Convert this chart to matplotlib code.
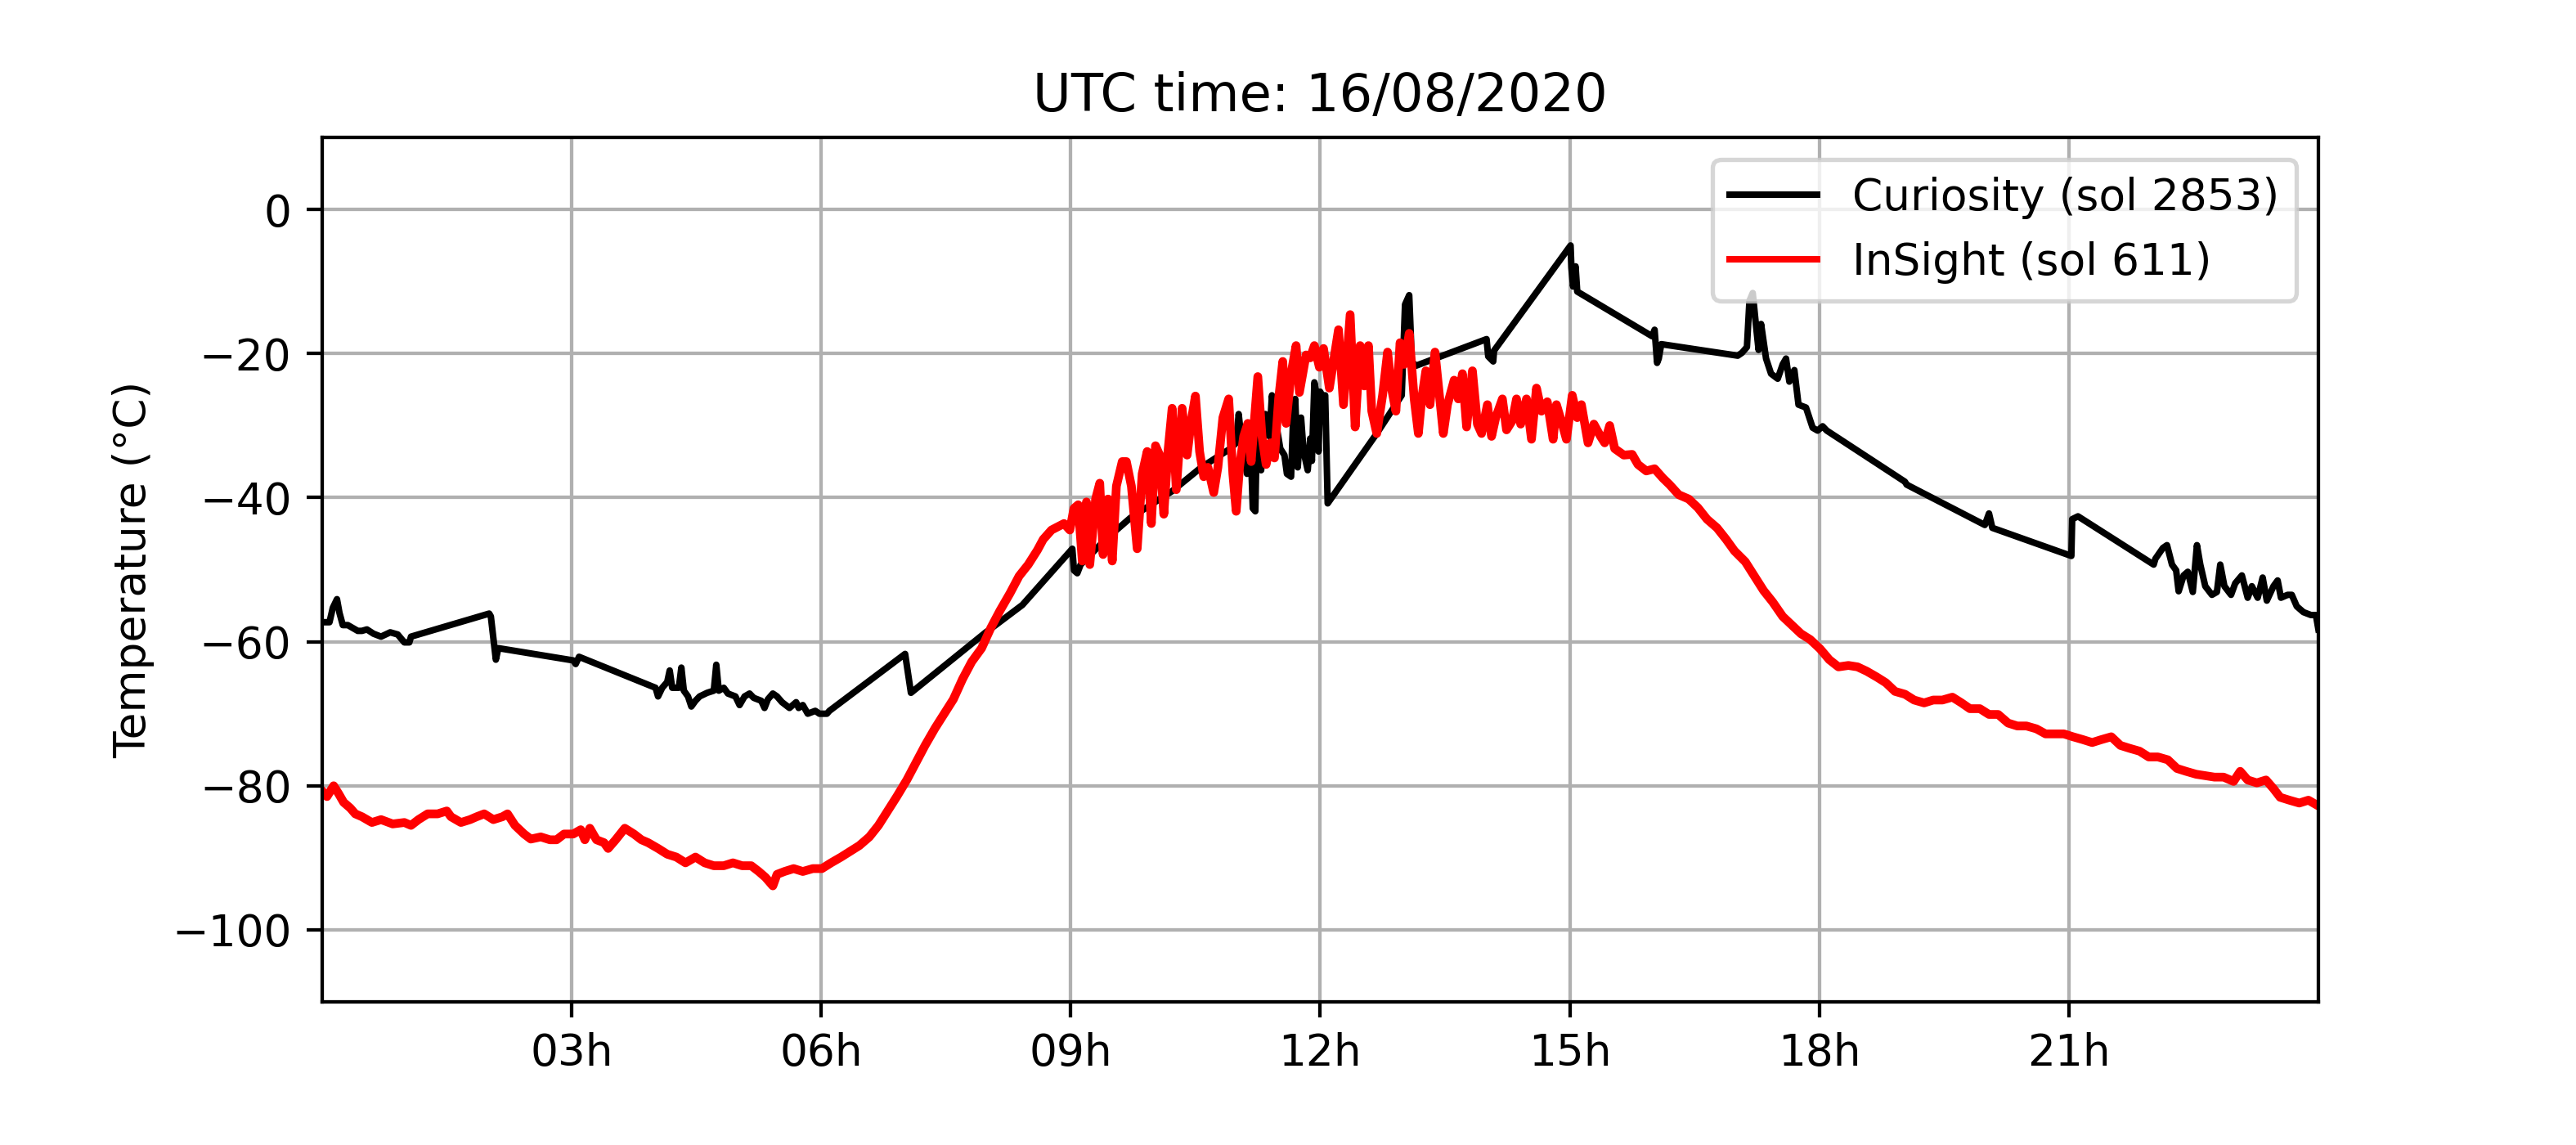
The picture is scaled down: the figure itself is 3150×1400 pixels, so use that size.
import matplotlib
matplotlib.use("Agg")
import matplotlib.pyplot as plt

# ---- data (hours UTC, temperature in °C) ----
curiosity_h = [0.00, 0.09, 0.13, 0.18, 0.21, 0.25, 0.31, 0.37, 0.43, 0.48, 0.54, 0.62, 0.71,
               0.82, 0.91, 0.99, 1.05, 1.07, 2.01, 2.03, 2.09, 2.12, 3.02, 3.05, 3.09, 4.01,
               4.04, 4.09, 4.15, 4.18, 4.21, 4.29, 4.32, 4.35, 4.40, 4.44, 4.49, 4.54, 4.63,
               4.71, 4.74, 4.77, 4.83, 4.88, 4.97, 5.02, 5.08, 5.14, 5.19, 5.28, 5.32, 5.36,
               5.42, 5.47, 5.53, 5.62, 5.70, 5.73, 5.78, 5.84, 5.93, 5.98, 6.07, 6.10, 7.01,
               7.08, 7.98, 8.04, 8.42, 9.02, 9.04, 9.08, 9.12, 9.42, 9.72, 10.22, 10.57,
               10.92, 10.99, 11.02, 11.06, 11.12, 11.16, 11.19, 11.22, 11.24, 11.29, 11.34,
               11.39, 11.42, 11.47, 11.52, 11.57, 11.60, 11.65, 11.68, 11.70, 11.73, 11.77,
               11.80, 11.85, 11.88, 11.90, 11.93, 11.95, 11.98, 12.00, 12.04, 12.06, 12.09,
               12.68, 12.98, 13.02, 13.07, 13.09, 13.10, 13.15, 14.00, 14.02, 14.08, 14.09,
               15.01, 15.02, 15.04, 15.07, 15.09, 15.99, 16.02, 16.05, 16.07, 16.10, 17.02,
               17.07, 17.13, 17.16, 17.20, 17.23, 17.27, 17.30, 17.36, 17.42, 17.50, 17.56,
               17.60, 17.64, 17.70, 17.75, 17.84, 17.92, 17.98, 18.04, 18.09, 19.03, 19.05,
               19.99, 20.04, 20.08, 21.03, 21.04, 21.11, 22.02, 22.04, 22.13, 22.18, 22.24,
               22.29, 22.32, 22.38, 22.43, 22.49, 22.54, 22.58, 22.64, 22.72, 22.78, 22.82,
               22.87, 22.95, 23.00, 23.08, 23.15, 23.20, 23.27, 23.33, 23.38, 23.46, 23.51,
               23.55, 23.63, 23.68, 23.74, 23.82, 23.91, 23.97, 24.00]
curiosity_t = [-57.3, -57.3, -55.3, -54.1, -56.0, -57.7, -57.7, -58.1, -58.5, -58.5, -58.3,
               -58.9, -59.3, -58.7, -59.0, -60.1, -60.1, -59.3, -56.1, -56.5, -62.5, -60.9,
               -62.6, -63.1, -62.1, -66.4, -67.6, -66.4, -65.6, -64.0, -66.4, -66.4, -63.6,
               -66.8, -67.6, -69.0, -68.2, -67.6, -67.1, -66.8, -63.2, -66.8, -66.4, -67.2,
               -67.6, -68.8, -67.6, -67.2, -67.8, -68.2, -69.2, -68.0, -67.2, -67.6, -68.4,
               -69.2, -68.4, -69.2, -68.8, -70.0, -69.6, -70.0, -70.0, -69.6, -61.7, -67.1,
               -58.7, -58.2, -54.9, -47.1, -50.1, -50.5, -49.3, -45.8, -42.8, -39.1, -35.8,
               -33.2, -32.4, -28.4, -32.8, -36.7, -31.9, -41.5, -41.9, -29.7, -36.2, -28.4,
               -31.5, -25.8, -29.7, -33.2, -34.1, -36.7, -37.1, -27.1, -26.3, -35.8, -28.9,
               -33.6, -36.2, -31.8, -34.9, -24.0, -25.3, -33.6, -25.3, -26.2, -25.8, -40.8,
               -31.1, -25.8, -13.2, -11.9, -17.6, -21.1, -21.7, -18.0, -20.4, -21.1, -19.6,
               -5.0, -8.1, -10.7, -7.9, -11.4, -17.6, -16.7, -21.3, -20.7, -18.7, -20.3,
               -19.9, -19.1, -12.7, -11.6, -15.1, -19.5, -15.9, -20.7, -22.8, -23.5, -21.5,
               -20.7, -23.9, -22.3, -27.1, -27.5, -30.3, -30.7, -30.1, -30.7, -37.8, -38.2,
               -43.8, -42.2, -44.2, -48.1, -43.0, -42.6, -49.3, -48.5, -47.0, -46.6, -49.3,
               -50.1, -53.0, -50.8, -50.3, -53.1, -46.6, -49.3, -52.3, -53.5, -53.1, -49.3,
               -52.3, -53.5, -51.9, -50.8, -53.9, -52.3, -53.9, -51.1, -54.3, -52.3, -51.5,
               -53.9, -53.5, -53.5, -55.1, -55.9, -56.3, -56.3, -58.3]

insight_h = [0.00, 0.06, 0.14, 0.20, 0.26, 0.34, 0.40, 0.48, 0.60, 0.71, 0.85, 0.99, 1.07,
             1.16, 1.27, 1.39, 1.50, 1.55, 1.67, 1.78, 1.86, 1.95, 2.06, 2.17, 2.23, 2.32,
             2.43, 2.51, 2.63, 2.74, 2.82, 2.91, 3.02, 3.11, 3.16, 3.22, 3.30, 3.39, 3.44,
             3.53, 3.64, 3.75, 3.84, 3.92, 4.04, 4.15, 4.26, 4.37, 4.49, 4.60, 4.71, 4.83,
             4.94, 5.05, 5.16, 5.25, 5.33, 5.42, 5.47, 5.56, 5.67, 5.78, 5.90, 6.01, 6.12,
             6.24, 6.35, 6.46, 6.58, 6.69, 6.80, 6.91, 7.03, 7.14, 7.25, 7.37, 7.48, 7.59,
             7.70, 7.81, 7.93, 8.04, 8.15, 8.27, 8.38, 8.49, 8.60, 8.67, 8.77, 8.92, 8.99,
             9.04, 9.09, 9.14, 9.19, 9.23, 9.30, 9.35, 9.39, 9.45, 9.50, 9.55, 9.62, 9.67,
             9.73, 9.80, 9.86, 9.92, 9.97, 10.02, 10.07, 10.12, 10.17, 10.22, 10.27, 10.34,
             10.40, 10.45, 10.50, 10.55, 10.60, 10.65, 10.72, 10.77, 10.83, 10.90, 10.95,
             10.99, 11.03, 11.08, 11.13, 11.17, 11.25, 11.30, 11.35, 11.40, 11.45, 11.50,
             11.55, 11.59, 11.65, 11.71, 11.75, 11.83, 11.88, 11.93, 11.99, 12.04, 12.11,
             12.16, 12.22, 12.28, 12.36, 12.42, 12.48, 12.53, 12.58, 12.62, 12.68, 12.75,
             12.81, 12.86, 12.91, 12.96, 13.01, 13.07, 13.13, 13.18, 13.22, 13.27, 13.32,
             13.38, 13.43, 13.48, 13.53, 13.61, 13.66, 13.71, 13.76, 13.83, 13.89, 13.94,
             14.01, 14.06, 14.11, 14.19, 14.24, 14.31, 14.36, 14.41, 14.48, 14.54, 14.60,
             14.66, 14.73, 14.80, 14.84, 14.91, 14.96, 15.03, 15.09, 15.14, 15.22, 15.29,
             15.37, 15.42, 15.48, 15.54, 15.65, 15.75, 15.82, 15.92, 16.02, 16.12, 16.20,
             16.31, 16.43, 16.54, 16.65, 16.77, 16.88, 16.98, 17.11, 17.22, 17.33, 17.44,
             17.56, 17.67, 17.78, 17.89, 18.01, 18.12, 18.23, 18.35, 18.46, 18.57, 18.69,
             18.80, 18.91, 19.03, 19.14, 19.26, 19.37, 19.48, 19.60, 19.71, 19.81, 19.93,
             20.04, 20.15, 20.27, 20.38, 20.49, 20.61, 20.72, 20.83, 20.94, 21.05, 21.17,
             21.28, 21.39, 21.51, 21.62, 21.73, 21.85, 21.96, 22.07, 22.19, 22.30, 22.41,
             22.53, 22.64, 22.75, 22.86, 22.98, 23.06, 23.15, 23.26, 23.37, 23.46, 23.54,
             23.65, 23.77, 23.88, 24.00]
insight_t = [-80.7, -81.5, -80.0, -81.1, -82.3, -83.1, -83.9, -84.3, -85.1, -84.7, -85.3,
             -85.1, -85.5, -84.7, -83.9, -83.9, -83.5, -84.3, -85.1, -84.7, -84.3, -83.9,
             -84.7, -84.3, -83.9, -85.5, -86.7, -87.4, -87.1, -87.5, -87.5, -86.7, -86.7,
             -86.1, -87.5, -85.9, -87.5, -87.9, -88.7, -87.5, -85.9, -86.7, -87.5, -87.9,
             -88.7, -89.5, -89.9, -90.7, -89.9, -90.7, -91.1, -91.1, -90.7, -91.1, -91.1,
             -91.9, -92.7, -93.9, -92.3, -91.9, -91.5, -91.9, -91.5, -91.5, -90.7, -89.9,
             -89.1, -88.3, -87.1, -85.5, -83.5, -81.5, -79.2, -76.8, -74.4, -72.0, -70.0,
             -68.0, -65.2, -62.8, -60.9, -58.1, -55.7, -53.3, -50.9, -49.3, -47.3, -45.8,
             -44.5, -43.6, -44.5, -41.5, -41.0, -48.8, -40.6, -49.3, -40.2, -38.0, -47.9,
             -40.2, -48.8, -38.4, -35.0, -35.0, -38.4, -47.1, -36.7, -33.6, -43.6, -32.8,
             -34.1, -42.3, -33.6, -27.6, -38.9, -27.6, -34.1, -29.3, -25.9, -33.6, -37.1,
             -35.8, -39.3, -35.8, -28.9, -26.3, -36.7, -41.9, -35.8, -31.5, -29.7, -35.0,
             -23.2, -31.5, -35.4, -32.4, -34.5, -26.3, -21.1, -29.7, -22.8, -18.9, -25.4,
             -20.2, -20.6, -18.9, -21.9, -19.3, -24.8, -21.1, -16.7, -27.1, -14.6, -30.2,
             -18.9, -24.5, -18.9, -28.0, -31.1, -25.8, -19.8, -25.0, -28.0, -18.5, -21.5,
             -17.2, -26.3, -31.1, -26.3, -22.4, -27.1, -19.8, -25.4, -31.1, -27.1, -23.7,
             -26.3, -22.8, -30.2, -22.4, -29.8, -31.1, -27.1, -31.5, -28.9, -26.3, -30.6,
             -29.3, -26.3, -29.8, -26.3, -31.9, -24.8, -28.0, -26.7, -31.9, -27.1, -29.8,
             -31.9, -25.8, -28.9, -27.1, -32.4, -29.8, -31.5, -32.4, -30.0, -33.2, -34.1,
             -34.0, -35.4, -36.3, -36.0, -37.3, -38.2, -39.6, -40.2, -41.4, -43.0, -44.2,
             -45.8, -47.4, -48.9, -50.9, -52.9, -54.5, -56.5, -57.7, -58.9, -59.7, -61.0,
             -62.5, -63.5, -63.3, -63.5, -64.1, -64.9, -65.7, -66.9, -67.3, -68.1, -68.5,
             -68.1, -68.1, -67.7, -68.5, -69.3, -69.3, -70.1, -70.1, -71.3, -71.7, -71.7,
             -72.1, -72.8, -72.8, -72.8, -73.2, -73.6, -74.0, -73.6, -73.2, -74.4, -74.8,
             -75.2, -76.0, -76.0, -76.4, -77.6, -78.0, -78.4, -78.6, -78.8, -78.8, -79.4,
             -78.0, -79.2, -79.6, -79.2, -80.4, -81.6, -82.0, -82.4, -82.0, -82.8]

tick_hours = [3, 6, 9, 12, 15, 18, 21]
tick_labels = ["03h", "06h", "09h", "12h", "15h", "18h", "21h"]
labels = ["Curiosity (sol 2853)", "InSight (sol 611)"]
title = "UTC time: 16/08/2020"

dpi = 384
fig = plt.figure(figsize=(3150 / dpi, 1400 / dpi), dpi=dpi)
ax = fig.add_subplot(111)
fig.subplots_adjust(left=0.125, right=0.9, bottom=0.125, top=0.88)

ax.plot(curiosity_h, curiosity_t, color="black", lw=1.5, label=labels[0])
ax.plot(insight_h, insight_t, color="red", lw=2.0, label=labels[1])

ax.set_xlim(0, 24)
ax.set_ylim(-110, 10)
ax.set_xticks(tick_hours)
ax.set_xticklabels(tick_labels)
ax.set_yticks([0, -20, -40, -60, -80, -100])
ax.grid(True)
ax.set_ylabel("Temperature (°C)")
ax.set_title(title)
leg = ax.legend(loc="upper right")
leg.get_lines()[1].set_linewidth(1.5)

fig.savefig("out.png", dpi=dpi)
